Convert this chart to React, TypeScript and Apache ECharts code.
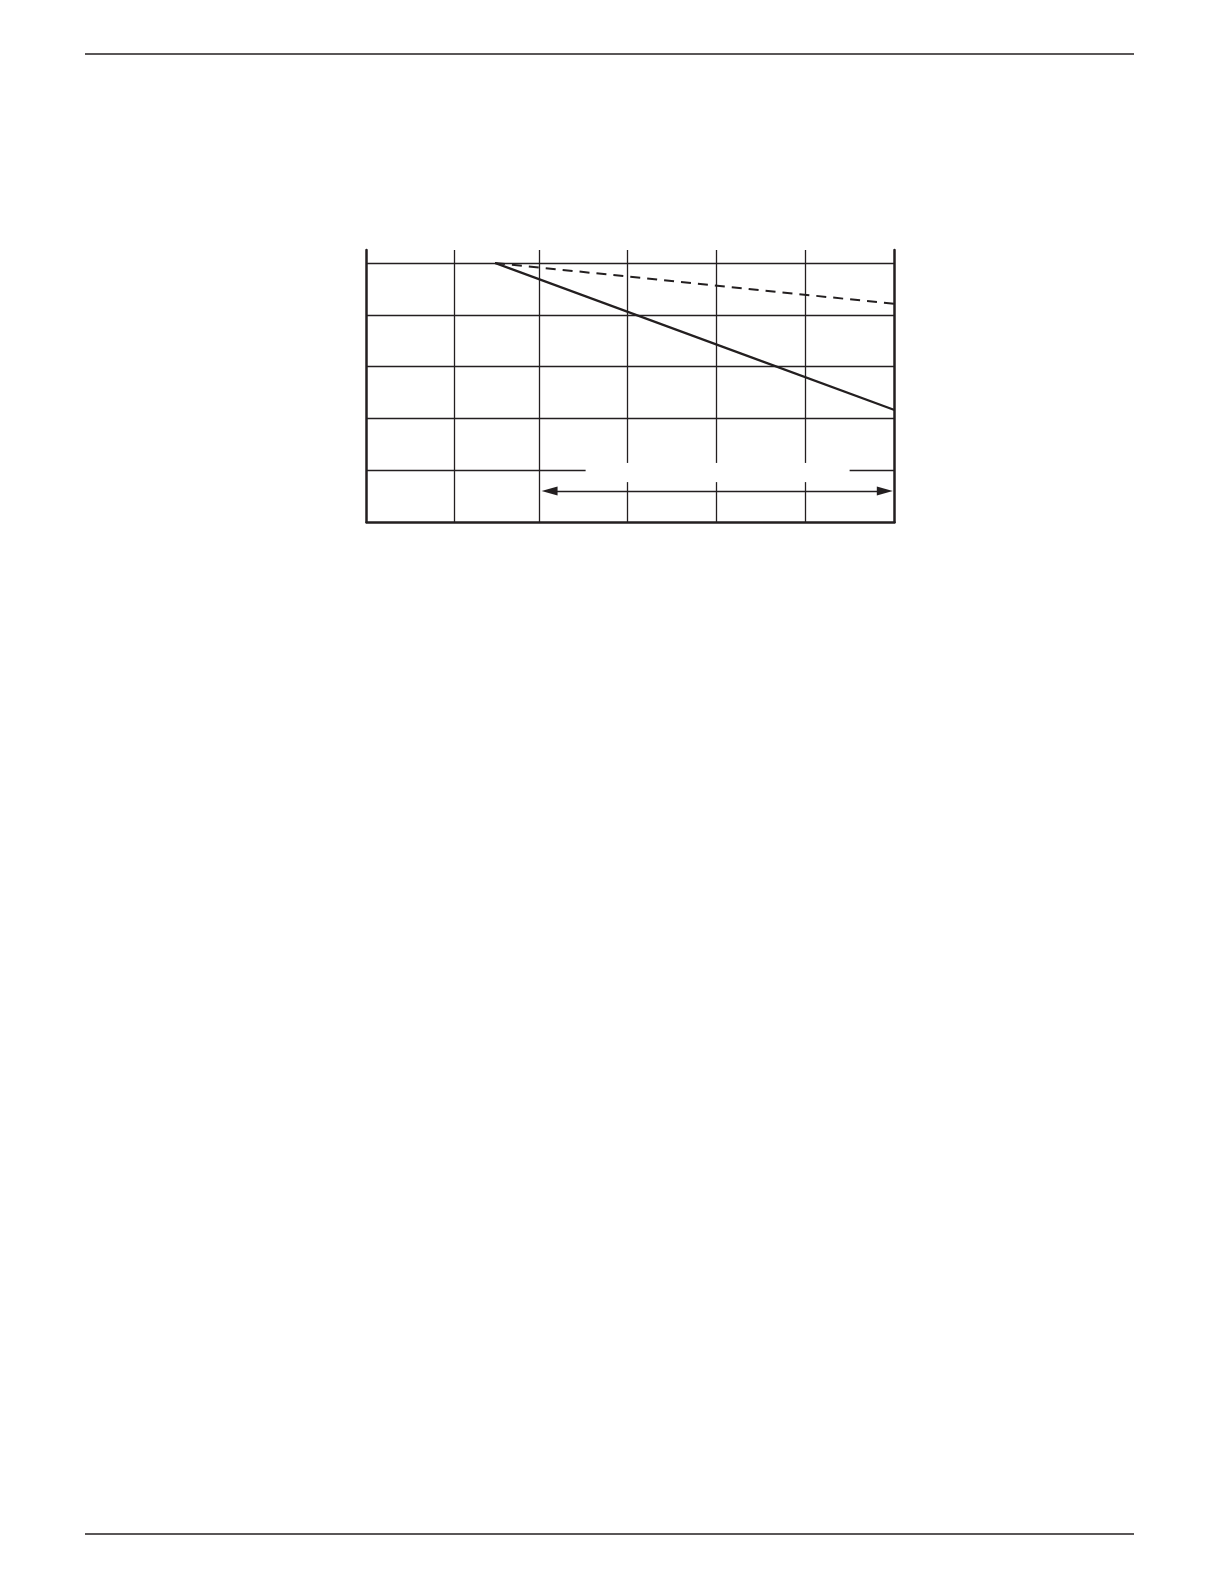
import { useEffect, useRef } from 'react';
import * as echarts from 'echarts';

// axis ranges (data units)
const xMin = 0;
const xMax = 6;
const yMin = 0;
const yMax = 5.25;
// vertical rules are not quite evenly spaced in the original
const xGrid = [1, 1.96, 2.96, 3.97, 4.99];
const yGrid = [1, 2, 3, 4, 5];

// the two curves
const solidLine = [[1.46, 5], [6, 2.16]];
const dashedLine = [[1.46, 5], [6, 4.21]];

// blank area where a label used to sit
const labelGapX = [2.49, 5.49];
const labelGapY = [0.77, 1.14];

// double arrow along the bottom band (symbol centres)
const rangeArrow = [[2.08, 0.6], [5.89, 0.6]];

const INK = '#231f20';

function seg(a: number[], b: number[]) {
  return [{ coord: a }, { coord: b }];
}

function gridSegments() {
  const out: any[] = [];
  xGrid.forEach(x => {
    if (x > labelGapX[0] && x < labelGapX[1]) {
      out.push(seg([x, yMin], [x, labelGapY[0]]));
      out.push(seg([x, labelGapY[1]], [x, yMax]));
    } else {
      out.push(seg([x, yMin], [x, yMax]));
    }
  });
  yGrid.forEach(y => {
    if (y > labelGapY[0] && y < labelGapY[1]) {
      out.push(seg([xMin, y], [labelGapX[0], y]));
      out.push(seg([labelGapX[1], y], [xMax, y]));
    } else {
      out.push(seg([xMin, y], [xMax, y]));
    }
  });
  return out;
}

export default function App() {
  const chartRef = useRef<HTMLDivElement>(null);

  useEffect(() => {
    if (!chartRef.current) return;
    const chart = echarts.init(chartRef.current, undefined, { renderer: 'svg' });

    const axisLine = { show: true, lineStyle: { color: INK, width: 2.5 } };

    chart.setOption({
      animation: false,
      backgroundColor: '#ffffff',
      grid: { left: 366.5, top: 250, width: 528, height: 272 },
      xAxis: {
        type: 'value',
        min: xMin,
        max: xMax,
        interval: 1,
        axisLine,
        axisTick: { show: false },
        axisLabel: { show: false },
        splitLine: { show: false },
      },
      yAxis: [
        {
          type: 'value',
          min: yMin,
          max: yMax,
          interval: 1,
          axisLine,
          axisTick: { show: false },
          axisLabel: { show: false },
          splitLine: { show: false },
        },
        {
          type: 'value',
          position: 'right',
          min: yMin,
          max: yMax,
          interval: 1,
          axisLine,
          axisTick: { show: false },
          axisLabel: { show: false },
          splitLine: { show: false },
        },
      ],
      graphic: [
        { type: 'line', shape: { x1: 85, y1: 54, x2: 1134, y2: 54 }, style: { stroke: INK, lineWidth: 1.4 } },
        { type: 'line', shape: { x1: 85, y1: 1534, x2: 1134, y2: 1534 }, style: { stroke: INK, lineWidth: 1.4 } },
      ],
      series: [
        {
          type: 'line',
          data: [],
          silent: true,
          markLine: {
            silent: true,
            symbol: ['none', 'none'],
            label: { show: false },
            emphasis: { disabled: true },
            lineStyle: { color: INK, width: 1.3, type: 'solid' },
            data: gridSegments(),
          },
        },
        {
          type: 'line',
          data: [],
          silent: true,
          markLine: {
            silent: true,
            symbol: ['triangle', 'triangle'],
            symbolSize: [9, 16],
            label: { show: false },
            emphasis: { disabled: true },
            lineStyle: { color: INK, width: 1.3, type: 'solid' },
            itemStyle: { color: INK },
            data: [seg(rangeArrow[0], rangeArrow[1])],
          },
        },
        {
          type: 'line',
          data: solidLine,
          showSymbol: false,
          silent: true,
          lineStyle: { color: INK, width: 2.2 },
        },
        {
          type: 'line',
          data: dashedLine,
          showSymbol: false,
          silent: true,
          lineStyle: { color: INK, width: 2, type: [10, 7] },
        },
      ],
    });

    return () => chart.dispose();
  }, []);

  return (
    <div
      ref={chartRef}
      style={{ position: 'absolute', left: 0, top: 0, width: 1219, height: 1587 }}
    />
  );
}
